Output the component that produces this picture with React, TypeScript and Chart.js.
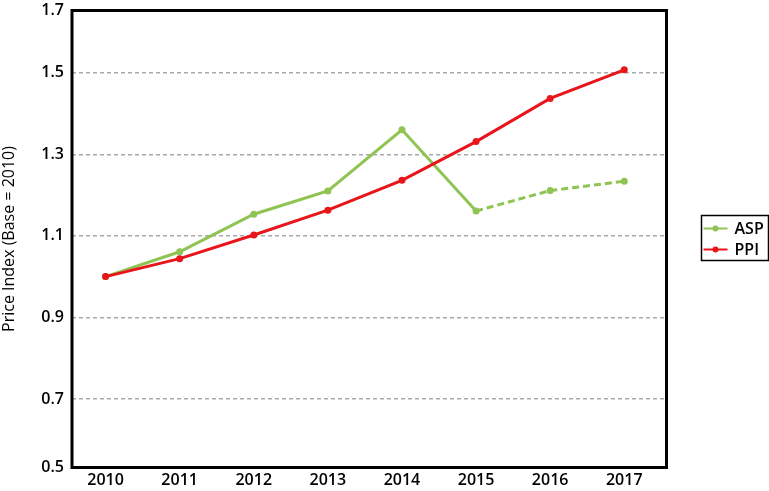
import React, { useEffect, useRef } from "react";
import { Chart, registerables } from "chart.js";

Chart.register(...registerables);

const years = [2010, 2011, 2012, 2013, 2014, 2015, 2016, 2017];
const aspValues = [1.0, 1.061, 1.153, 1.21, 1.36, 1.161, 1.211, 1.234];
const ppiValues = [1.0, 1.044, 1.102, 1.163, 1.236, 1.331, 1.437, 1.507];
const aspProjectedFrom = 5; // index of 2015: dashed afterwards
const yTickLabels = ["0.5", "0.7", "0.9", "1.1", "1.3", "1.5", "1.7"];
const seriesNames = ["ASP", "PPI"];
const seriesColors = ["#8fc452", "#e8151b"];

const Y_MIN = 0.532;
const Y_MAX = 1.6525;
const X_MIN = 2009.547;
const X_MAX = 2017.57;

const FONT = "'Open Sans', 'Noto Sans', sans-serif";

const frameAndLegend = {
  id: "frameAndLegend",
  afterDraw(chart: any) {
    const { ctx, chartArea } = chart;
    ctx.save();
    ctx.strokeStyle = "#000";
    ctx.lineWidth = 3;
    ctx.strokeRect(
      chartArea.left,
      chartArea.top,
      chartArea.right - chartArea.left,
      chartArea.bottom - chartArea.top
    );
    const mid = (chartArea.top + chartArea.bottom) / 2;
    const bx = chartArea.right + 35;
    const by = mid - 23.5;
    const bw = 67;
    const bh = 45;
    ctx.lineWidth = 1.5;
    ctx.strokeStyle = "#000";
    ctx.strokeRect(bx, by, bw, bh);
    ctx.font = `600 16px ${FONT}`;
    ctx.textBaseline = "middle";
    ctx.textAlign = "left";
    seriesNames.forEach((name, i) => {
      const y = by + 13 + i * 21;
      const color = seriesColors[i];
      ctx.strokeStyle = color;
      ctx.lineWidth = 2;
      ctx.beginPath();
      ctx.moveTo(bx + 2, y);
      ctx.lineTo(bx + 26, y);
      ctx.stroke();
      ctx.fillStyle = color;
      ctx.beginPath();
      ctx.arc(bx + 14, y, 3, 0, Math.PI * 2);
      ctx.fill();
      ctx.fillStyle = "#000";
      ctx.fillText(name, bx + 33, y + 1);
    });
    ctx.restore();
  },
};

export default function App() {
  const ref = useRef<HTMLCanvasElement | null>(null);

  useEffect(() => {
    if (!ref.current) return;
    const chart = new Chart(ref.current, {
      type: "line",
      data: {
        datasets: [
          {
            label: seriesNames[0],
            data: years.map((x, i) => ({ x, y: aspValues[i] })),
            borderColor: seriesColors[0],
            backgroundColor: seriesColors[0],
            borderWidth: 3,
            pointRadius: 3.5,
            pointBorderWidth: 0,
            pointBackgroundColor: seriesColors[0],
            tension: 0,
            order: 1,
            segment: {
              borderDash: (c: any) =>
                c.p0DataIndex >= aspProjectedFrom ? [7, 4] : undefined,
            },
          },
          {
            label: seriesNames[1],
            data: years.map((x, i) => ({ x, y: ppiValues[i] })),
            borderColor: seriesColors[1],
            backgroundColor: seriesColors[1],
            borderWidth: 3,
            pointRadius: 3.5,
            pointBorderWidth: 0,
            pointBackgroundColor: seriesColors[1],
            tension: 0,
            order: 0,
          },
        ],
      },
      options: {
        responsive: false,
        animation: false,
        layout: { padding: { top: 10.5, right: 102.5, bottom: 0, left: 0 } },
        plugins: {
          legend: { display: false },
          tooltip: { enabled: false },
        },
        scales: {
          x: {
            type: "linear",
            min: X_MIN,
            max: X_MAX,
            afterBuildTicks: (scale: any) => {
              scale.ticks = years.map((v) => ({ value: v }));
            },
            afterFit: (scale: any) => {
              scale.height = 23.5;
              scale.paddingLeft = 0;
              scale.paddingRight = 0;
            },
            grid: { display: false, drawTicks: false },
            border: { display: false },
            ticks: {
              padding: 3,
              color: "#000",
              font: { family: FONT, size: 16, weight: "600" },
              callback: (v: any) => String(v),
              maxRotation: 0,
              autoSkip: false,
            },
          },
          y: {
            type: "linear",
            min: Y_MIN,
            max: Y_MAX,
            afterBuildTicks: (scale: any) => {
              const n = yTickLabels.length;
              scale.ticks = yTickLabels.map((l, i) => ({
                value: i === 0 ? Y_MIN : i === n - 1 ? Y_MAX : parseFloat(l),
              }));
            },
            afterFit: (scale: any) => {
              scale.width = 72;
              scale.paddingTop = 0;
              scale.paddingBottom = 0;
            },
            grid: {
              drawTicks: false,
              lineWidth: 1.5,
              color: (c: any) =>
                c.index === 0 || c.index === yTickLabels.length - 1
                  ? "rgba(0,0,0,0)"
                  : "#a9a9a9",
            },
            border: { display: false, dash: [4, 3] },
            ticks: {
              padding: 8,
              color: "#000",
              font: { family: FONT, size: 16, weight: "600" },
              callback: (_v: any, i: number) => yTickLabels[i],
              autoSkip: false,
            },
            title: {
              display: true,
              text: "Price Index (Base = 2010)",
              color: "#000",
              padding: 0,
              font: { family: FONT, size: 16, weight: "400" },
            },
          },
        },
      },
      plugins: [frameAndLegend],
    } as any);
    return () => chart.destroy();
  }, []);

  return (
    <div
      style={{
        position: "absolute",
        left: 0,
        top: 0,
        width: 769,
        height: 491,
        background: "#fff",
      }}
    >
      <canvas ref={ref} width={769} height={491} />
    </div>
  );
}
